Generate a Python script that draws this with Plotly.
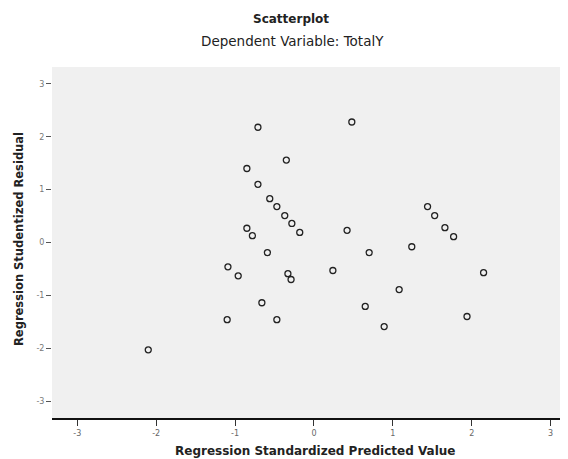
import plotly.graph_objects as go

predicted = [-0.71, 0.48, -0.35, -0.85, -0.71, -0.56, -0.47, -0.37, -0.28, -0.18,
             -0.85, -0.78, -0.59, 0.42, 0.70, 1.24, 1.44, 1.53, 1.66, 1.77,
             2.15, -1.09, -0.96, -0.33, -0.29, 0.24, -0.66, -0.47, -1.10, 0.65,
             1.08, 0.89, 1.94, -2.10]
residual = [2.18, 2.28, 1.56, 1.40, 1.10, 0.83, 0.68, 0.51, 0.36, 0.19,
            0.27, 0.13, -0.19, 0.23, -0.19, -0.08, 0.68, 0.51, 0.28, 0.11,
            -0.57, -0.46, -0.63, -0.59, -0.70, -0.53, -1.14, -1.46, -1.46, -1.21,
            -0.89, -1.59, -1.40, -2.03]
tick_vals = [-3, -2, -1, 0, 1, 2, 3]
tick_text = ["-3", "-2", "-1", "0", "1", "2", "3"]

OFF = 8  # page body margin
W, H = 568 - OFF, 459 - OFF
L, R, T, B = 52 - OFF, 0, 67 - OFF, 459 - 418
PW, PH = W - L - R, H - T - B


def px(x):
    return (x - OFF - L) / PW


def py(y):
    return (H - B - (y - OFF)) / PH


fig = go.Figure()
fig.add_trace(go.Scatter(
    x=predicted, y=residual, mode="markers",
    marker=dict(symbol="circle-open", size=6, color="#222222", line=dict(width=1.3)),
    showlegend=False,
))

ann_common = dict(xref="paper", yref="paper", showarrow=False,
                  xanchor="center", yanchor="middle")
fig.update_layout(
    width=W, height=H,
    margin=dict(l=L, r=R, t=T, b=B),
    paper_bgcolor="white",
    plot_bgcolor="#f0f0f0",
    font=dict(family="DejaVu Sans, sans-serif", color="#222"),
    xaxis=dict(range=[-3.32, 3.22], tickvals=tick_vals, ticktext=tick_text,
               showgrid=False, zeroline=False, showline=True, linecolor="#111",
               linewidth=2, ticks="outside", ticklen=6, tickcolor="#333",
               tickfont=dict(size=8, color="#666")),
    yaxis=dict(range=[-3.32, 3.32], tickvals=tick_vals, ticktext=tick_text,
               showgrid=False, zeroline=False, showline=False,
               ticks="outside", ticklen=5, tickcolor="#555",
               tickfont=dict(size=8, color="#777")),
    annotations=[
        dict(text="<b>Scatterplot</b>", x=px(291), y=py(19), font=dict(size=12), **ann_common),
        dict(text="Dependent Variable: TotalY", x=px(292), y=py(41), font=dict(size=13.5), **ann_common),
        dict(text="<b>Regression Standardized Predicted Value</b>", x=px(315), y=py(451),
             font=dict(size=12), **ann_common),
        dict(text="<b>Regression Studentized Residual</b>", x=px(19), y=py(239),
             textangle=-90, font=dict(size=11.5), **ann_common),
    ],
)

fig.write_html("out.html")
